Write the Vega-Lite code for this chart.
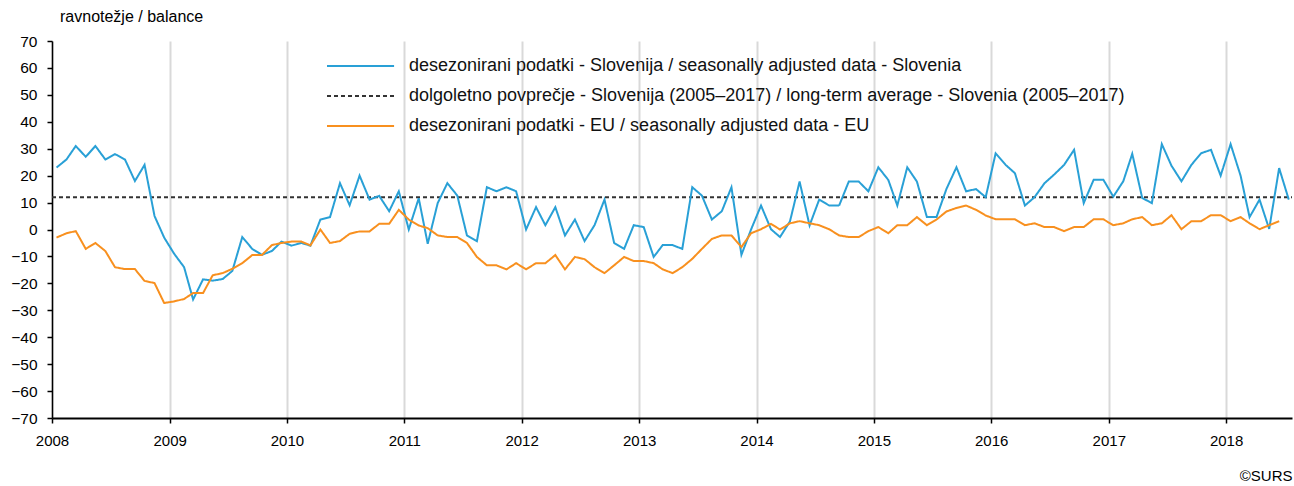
{
  "$schema": "https://vega.github.io/schema/vega-lite/v6.json",
  "autosize": {"type": "none"},
  "width": 1240,
  "height": 377,
  "padding": {"left": 52, "top": 41, "right": 2, "bottom": 68},
  "background": "white",
  "config": {
    "font": "Liberation Sans",
    "view": {"stroke": null},
    "legend": {"padding": 0}
  },
  "title": {
    "text": "ravnotežje / balance",
    "anchor": "start",
    "frame": "group",
    "dx": 8,
    "offset": 9,
    "fontSize": 16,
    "fontWeight": "normal",
    "color": "#000000",
    "font": "Liberation Sans"
  },
  "data": {
    "values": [
      {"d": "2008-01-01", "avg": 12},
      {"d": "2018-07-25", "avg": 12},
      {"d": "2008-01-15", "si": 23, "eu": -3},
      {"d": "2008-02-15", "si": 26, "eu": -1.4},
      {"d": "2008-03-15", "si": 31, "eu": -0.6},
      {"d": "2008-04-15", "si": 27, "eu": -7.2},
      {"d": "2008-05-15", "si": 31, "eu": -5},
      {"d": "2008-06-15", "si": 26, "eu": -8},
      {"d": "2008-07-15", "si": 28, "eu": -14},
      {"d": "2008-08-15", "si": 26, "eu": -14.7},
      {"d": "2008-09-15", "si": 18, "eu": -14.7},
      {"d": "2008-10-15", "si": 24, "eu": -19.1},
      {"d": "2008-11-15", "si": 5, "eu": -19.9},
      {"d": "2008-12-15", "si": -3, "eu": -27.3},
      {"d": "2009-01-15", "si": -9, "eu": -26.7},
      {"d": "2009-02-15", "si": -14, "eu": -25.8},
      {"d": "2009-03-15", "si": -26, "eu": -23.6},
      {"d": "2009-04-15", "si": -18.5, "eu": -23.6},
      {"d": "2009-05-15", "si": -19, "eu": -17},
      {"d": "2009-06-15", "si": -18.4, "eu": -16.2},
      {"d": "2009-07-15", "si": -15.4, "eu": -14.6},
      {"d": "2009-08-15", "si": -2.8, "eu": -12.5},
      {"d": "2009-09-15", "si": -7.2, "eu": -9.5},
      {"d": "2009-10-15", "si": -9.4, "eu": -9.5},
      {"d": "2009-11-15", "si": -8, "eu": -5.8},
      {"d": "2009-12-15", "si": -4.5, "eu": -5},
      {"d": "2010-01-15", "si": -6, "eu": -4.5},
      {"d": "2010-02-15", "si": -5, "eu": -4.5},
      {"d": "2010-03-15", "si": -6, "eu": -5.9},
      {"d": "2010-04-15", "si": 3.7, "eu": 0},
      {"d": "2010-05-15", "si": 4.6, "eu": -5},
      {"d": "2010-06-15", "si": 17.2, "eu": -4.3},
      {"d": "2010-07-15", "si": 9, "eu": -1.6},
      {"d": "2010-08-15", "si": 20, "eu": -0.7},
      {"d": "2010-09-15", "si": 11.1, "eu": -0.7},
      {"d": "2010-10-15", "si": 12.5, "eu": 2.1},
      {"d": "2010-11-15", "si": 6.8, "eu": 2.1},
      {"d": "2010-12-15", "si": 14.2, "eu": 7.3},
      {"d": "2011-01-15", "si": 0, "eu": 3.7},
      {"d": "2011-02-15", "si": 11.6, "eu": 1.5},
      {"d": "2011-03-15", "si": -5.3, "eu": 0.5},
      {"d": "2011-04-15", "si": 9.8, "eu": -2.2},
      {"d": "2011-05-15", "si": 17.2, "eu": -2.8},
      {"d": "2011-06-15", "si": 12.6, "eu": -2.8},
      {"d": "2011-07-15", "si": -2.2, "eu": -5},
      {"d": "2011-08-15", "si": -4.3, "eu": -10.2},
      {"d": "2011-09-15", "si": 15.7, "eu": -13.3},
      {"d": "2011-10-15", "si": 14.2, "eu": -13.3},
      {"d": "2011-11-15", "si": 15.7, "eu": -14.8},
      {"d": "2011-12-15", "si": 14.2, "eu": -12.5},
      {"d": "2012-01-15", "si": 0, "eu": -14.8},
      {"d": "2012-02-15", "si": 8.3, "eu": -12.5},
      {"d": "2012-03-15", "si": 1.6, "eu": -12.5},
      {"d": "2012-04-15", "si": 8.3, "eu": -9.5},
      {"d": "2012-05-15", "si": -2.2, "eu": -14.8},
      {"d": "2012-06-15", "si": 3.7, "eu": -10.2},
      {"d": "2012-07-15", "si": -4.3, "eu": -11},
      {"d": "2012-08-15", "si": 1.6, "eu": -14},
      {"d": "2012-09-15", "si": 11.1, "eu": -16.2},
      {"d": "2012-10-15", "si": -5, "eu": -13.3},
      {"d": "2012-11-15", "si": -7.2, "eu": -10.2},
      {"d": "2012-12-15", "si": 1.6, "eu": -11.7},
      {"d": "2013-01-15", "si": 0.9, "eu": -11.7},
      {"d": "2013-02-15", "si": -10.2, "eu": -12.5},
      {"d": "2013-03-15", "si": -5.8, "eu": -14.8},
      {"d": "2013-04-15", "si": -5.8, "eu": -16.2},
      {"d": "2013-05-15", "si": -7.2, "eu": -14},
      {"d": "2013-06-15", "si": 15.7, "eu": -10.9},
      {"d": "2013-07-15", "si": 12.6, "eu": -7.2},
      {"d": "2013-08-15", "si": 3.7, "eu": -3.5},
      {"d": "2013-09-15", "si": 6.8, "eu": -2.2},
      {"d": "2013-10-15", "si": 15.7, "eu": -2.2},
      {"d": "2013-11-15", "si": -9.4, "eu": -6.5},
      {"d": "2013-12-15", "si": 0, "eu": -1.4},
      {"d": "2014-01-15", "si": 8.9, "eu": 0.1},
      {"d": "2014-02-15", "si": 0.1, "eu": 2.1},
      {"d": "2014-03-15", "si": -2.8, "eu": 0},
      {"d": "2014-04-15", "si": 3, "eu": 2.3},
      {"d": "2014-05-15", "si": 17.8, "eu": 3.1},
      {"d": "2014-06-15", "si": 1.5, "eu": 2.3},
      {"d": "2014-07-15", "si": 11.1, "eu": 1.6},
      {"d": "2014-08-15", "si": 8.9, "eu": 0.1},
      {"d": "2014-09-15", "si": 8.9, "eu": -2.2},
      {"d": "2014-10-15", "si": 17.8, "eu": -2.8},
      {"d": "2014-11-15", "si": 17.8, "eu": -2.8},
      {"d": "2014-12-15", "si": 14.2, "eu": -0.6},
      {"d": "2015-01-15", "si": 23.1, "eu": 0.9},
      {"d": "2015-02-15", "si": 18.4, "eu": -1.4},
      {"d": "2015-03-15", "si": 8.9, "eu": 1.6},
      {"d": "2015-04-15", "si": 23.1, "eu": 1.6},
      {"d": "2015-05-15", "si": 17.8, "eu": 4.6},
      {"d": "2015-06-15", "si": 4.6, "eu": 1.6},
      {"d": "2015-07-15", "si": 4.6, "eu": 3.7},
      {"d": "2015-08-15", "si": 15.1, "eu": 6.7},
      {"d": "2015-09-15", "si": 23.1, "eu": 8},
      {"d": "2015-10-15", "si": 14.2, "eu": 8.9},
      {"d": "2015-11-15", "si": 15, "eu": 7.3},
      {"d": "2015-12-15", "si": 12, "eu": 5.2},
      {"d": "2016-01-15", "si": 28.3, "eu": 3.8},
      {"d": "2016-02-15", "si": 24, "eu": 3.8},
      {"d": "2016-03-15", "si": 20.9, "eu": 3.8},
      {"d": "2016-04-15", "si": 8.9, "eu": 1.6},
      {"d": "2016-05-15", "si": 12, "eu": 2.3},
      {"d": "2016-06-15", "si": 17.2, "eu": 0.9},
      {"d": "2016-07-15", "si": 20.4, "eu": 0.9},
      {"d": "2016-08-15", "si": 24, "eu": -0.6},
      {"d": "2016-09-15", "si": 29.6, "eu": 0.9},
      {"d": "2016-10-15", "si": 9.8, "eu": 0.9},
      {"d": "2016-11-15", "si": 18.5, "eu": 3.8},
      {"d": "2016-12-15", "si": 18.5, "eu": 3.8},
      {"d": "2017-01-15", "si": 12.2, "eu": 1.6},
      {"d": "2017-02-15", "si": 17.9, "eu": 2.3},
      {"d": "2017-03-15", "si": 28.1, "eu": 3.8},
      {"d": "2017-04-15", "si": 11.7, "eu": 4.6},
      {"d": "2017-05-15", "si": 9.8, "eu": 1.6},
      {"d": "2017-06-15", "si": 31.7, "eu": 2.3},
      {"d": "2017-07-15", "si": 23.7, "eu": 5.3},
      {"d": "2017-08-15", "si": 17.9, "eu": 0.1},
      {"d": "2017-09-15", "si": 24, "eu": 3.1},
      {"d": "2017-10-15", "si": 28.3, "eu": 3.1},
      {"d": "2017-11-15", "si": 29.6, "eu": 5.3},
      {"d": "2017-12-15", "si": 20, "eu": 5.3},
      {"d": "2018-01-15", "si": 31.7, "eu": 3.1},
      {"d": "2018-02-15", "si": 20, "eu": 4.6},
      {"d": "2018-03-15", "si": 4.6, "eu": 2.3},
      {"d": "2018-04-15", "si": 11.1, "eu": 0.1},
      {"d": "2018-05-15", "si": 0.2, "eu": 1.6},
      {"d": "2018-06-15", "si": 22.8, "eu": 3.1},
      {"d": "2018-07-15", "si": 11.1}
    ]
  },
  "transform": [
    {"fold": ["si", "avg", "eu"], "as": ["series", "value"]},
    {"filter": "isValid(datum.value)"}
  ],
  "mark": {"type": "line", "strokeWidth": 2, "clip": true},
  "encoding": {
    "x": {
      "field": "d",
      "type": "temporal",
      "scale": {"domain": ["2008-01-01", "2018-07-25"]},
      "axis": {
        "format": "%Y",
        "tickCount": {"interval": "year", "step": 1},
        "labelFontSize": 15,
        "labelColor": "#000000",
        "labelPadding": 10,
        "labelFlush": false,
        "labelOverlap": false,
        "grid": true,
        "gridColor": "#d9d9d9",
        "gridWidth": 2,
        "domainColor": "#000000",
        "domainWidth": 2,
        "tickColor": "#000000",
        "tickWidth": 1.5,
        "tickSize": 5,
        "title": "©SURS",
        "titleAnchor": "end",
        "titleAlign": "right",
        "titleFontSize": 15,
        "titleFontWeight": "normal",
        "titleColor": "#000000",
        "titlePadding": 20
      }
    },
    "y": {
      "field": "value",
      "type": "quantitative",
      "scale": {"domain": [-70, 70], "nice": false},
      "axis": {
        "values": [-70, -60, -50, -40, -30, -20, -10, 0, 10, 20, 30, 40, 50, 60, 70],
        "title": null,
        "grid": false,
        "labelFontSize": 15.5,
        "labelColor": "#000000",
        "labelPadding": 10,
        "domainColor": "#000000",
        "domainWidth": 1.5,
        "tickColor": "#000000",
        "tickWidth": 1.5,
        "tickSize": 5
      }
    },
    "color": {
      "field": "series",
      "type": "nominal",
      "scale": {"domain": ["si", "avg", "eu"], "range": ["#29A0D6", "#333333", "#F8901F"]},
      "legend": {
        "title": null,
        "orient": "none",
        "legendX": 266,
        "legendY": 16,
        "symbolType": "M0,0H10",
        "symbolSize": 180,
        "symbolStrokeWidth": 2,
        "labelOffset": 73,
        "labelFontSize": 18,
        "labelColor": "#111111",
        "labelLimit": 1000,
        "rowPadding": 12,
        "labelExpr": "datum.value == 'si' ? 'desezonirani podatki - Slovenija / seasonally adjusted data - Slovenia' : datum.value == 'avg' ? 'dolgoletno povprečje - Slovenija (2005–2017) / long-term average - Slovenia (2005–2017)' : 'desezonirani podatki - EU / seasonally adjusted data - EU'"
      }
    },
    "strokeDash": {
      "field": "series",
      "type": "nominal",
      "scale": {"domain": ["si", "avg", "eu"], "range": [[1, 0], [4, 3], [1, 0]]},
      "legend": {
        "title": null,
        "orient": "none",
        "legendX": 266,
        "legendY": 16,
        "symbolType": "M0,0H10",
        "symbolSize": 180,
        "symbolStrokeWidth": 2,
        "labelOffset": 73,
        "labelFontSize": 18,
        "labelColor": "#111111",
        "labelLimit": 1000,
        "rowPadding": 12,
        "labelExpr": "datum.value == 'si' ? 'desezonirani podatki - Slovenija / seasonally adjusted data - Slovenia' : datum.value == 'avg' ? 'dolgoletno povprečje - Slovenija (2005–2017) / long-term average - Slovenia (2005–2017)' : 'desezonirani podatki - EU / seasonally adjusted data - EU'"
      }
    }
  }
}
